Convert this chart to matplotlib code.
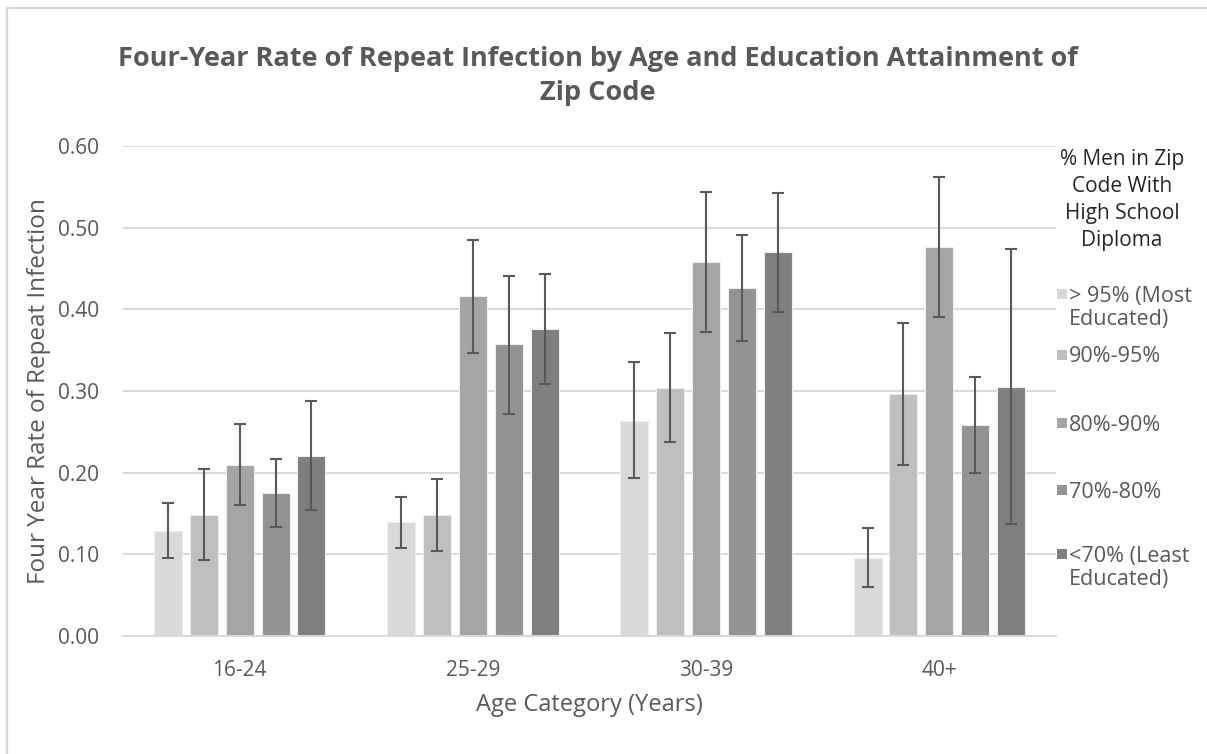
import matplotlib
matplotlib.use("Agg")
import matplotlib.pyplot as plt
import numpy as np
from matplotlib.lines import Line2D
from matplotlib.patches import Rectangle

# ---- data ----
age_groups = ["16-24", "25-29", "30-39", "40+"]
series_labels = ["> 95% (Most\nEducated)", "90%-95%", "80%-90%", "70%-80%", "<70% (Least\nEducated)"]
series_colors = ["#D9D9D9", "#BFBFBF", "#A5A5A5", "#939393", "#7F7F7F"]

rates = [
    [0.129, 0.139, 0.263, 0.096],   # > 95%
    [0.148, 0.148, 0.304, 0.296],   # 90%-95%
    [0.210, 0.416, 0.458, 0.476],   # 80%-90%
    [0.175, 0.357, 0.426, 0.258],   # 70%-80%
    [0.221, 0.376, 0.470, 0.305],   # <70%
]
ci_upper = [
    [0.163, 0.170, 0.335, 0.132],
    [0.205, 0.192, 0.371, 0.383],
    [0.260, 0.485, 0.544, 0.562],
    [0.217, 0.441, 0.491, 0.317],
    [0.288, 0.443, 0.543, 0.474],
]
ci_lower = [
    [0.095, 0.108, 0.193, 0.060],
    [0.093, 0.104, 0.237, 0.210],
    [0.160, 0.347, 0.372, 0.391],
    [0.134, 0.272, 0.361, 0.200],
    [0.154, 0.309, 0.397, 0.137],
]
y_ticks = [0.0, 0.1, 0.2, 0.3, 0.4, 0.5, 0.6]

title = "Four-Year Rate of Repeat Infection by Age and Education Attainment of\nZip Code"
legend_title = "% Men in Zip\nCode With\nHigh School\nDiploma"

# ---- figure ----
W, H = 1207, 754
fig = plt.figure(figsize=(W / 100, H / 100), dpi=100)
plt.rcParams["font.family"] = ["Open Sans", "DejaVu Sans"]
text_color = "#595959"

def fx(px):
    return px / W

def fy(py):
    return 1 - py / H

ax = fig.add_axes([fx(123), fy(636), fx(1056) - fx(123), fy(146) - fy(636)])

x = np.arange(len(age_groups))
stride = 0.154
width = 0.12
n = len(series_labels)
for i in range(n):
    pos = x + (i - (n - 1) / 2) * stride
    vals = np.array(rates[i])
    err = np.array([vals - np.array(ci_lower[i]), np.array(ci_upper[i]) - vals])
    ax.bar(pos, vals, width=width, color=series_colors[i], edgecolor="#EDEDED",
           linewidth=0.8, zorder=2)
    ax.errorbar(pos, vals, yerr=err, fmt="none", ecolor="#595959", elinewidth=1.5,
                capsize=4.5, capthick=1.5, zorder=3)

ax.set_xlim(-0.5, len(age_groups) - 0.5)
ax.set_ylim(0, 0.6)
ax.set_yticks(y_ticks)
ax.set_yticklabels([f"{v:.2f}" for v in y_ticks])
ax.set_xticks(x)
ax.set_xticklabels(age_groups)
ax.tick_params(axis="both", length=0, labelsize=15, colors=text_color)
ax.tick_params(axis="y", pad=17)
ax.tick_params(axis="x", pad=17)
ax.grid(axis="y", color="#D9D9D9", linewidth=1.4, zorder=0)
for s in ["top", "right", "left"]:
    ax.spines[s].set_visible(False)
ax.spines["bottom"].set_color("#D9D9D9")
ax.spines["bottom"].set_linewidth(1.4)

ax.set_ylabel("Four Year Rate of Repeat Infection", fontsize=17.5, color=text_color, labelpad=5)
ax.set_xlabel("Age Category (Years)", fontsize=17, color=text_color, labelpad=9)

fig.text(fx(598), fy(76), title, ha="center", va="center", fontsize=19.5,
         fontweight="bold", color=text_color, linespacing=1.45)

# legend drawn by hand on the right
fig.text(fx(1122), fy(200), legend_title, ha="center", va="center", fontsize=15,
         color="#262626", linespacing=1.36)
entry_y = [308, 357, 425, 492, 568]
for lab, col, py in zip(series_labels, series_colors, entry_y):
    first_line_y = py - 12 if "\n" in lab else py
    fig.patches.append(Rectangle((fx(1057), fy(first_line_y + 3)), fx(10), 10 / H,
                                 transform=fig.transFigure, facecolor=col,
                                 edgecolor="none"))
    fig.text(fx(1069), fy(py), lab, ha="left", va="center", fontsize=15.5,
             color=text_color, linespacing=1.1)

# chart-area frame (left and top edges)
fig.add_artist(Line2D([fx(7), fx(7)], [fy(8), 0], transform=fig.transFigure,
                      color="#D9D9D9", linewidth=1.6))
fig.add_artist(Line2D([fx(7), 1], [fy(8), fy(8)], transform=fig.transFigure,
                      color="#D9D9D9", linewidth=1.6))

fig.savefig("out.png", dpi=100, facecolor="white")
